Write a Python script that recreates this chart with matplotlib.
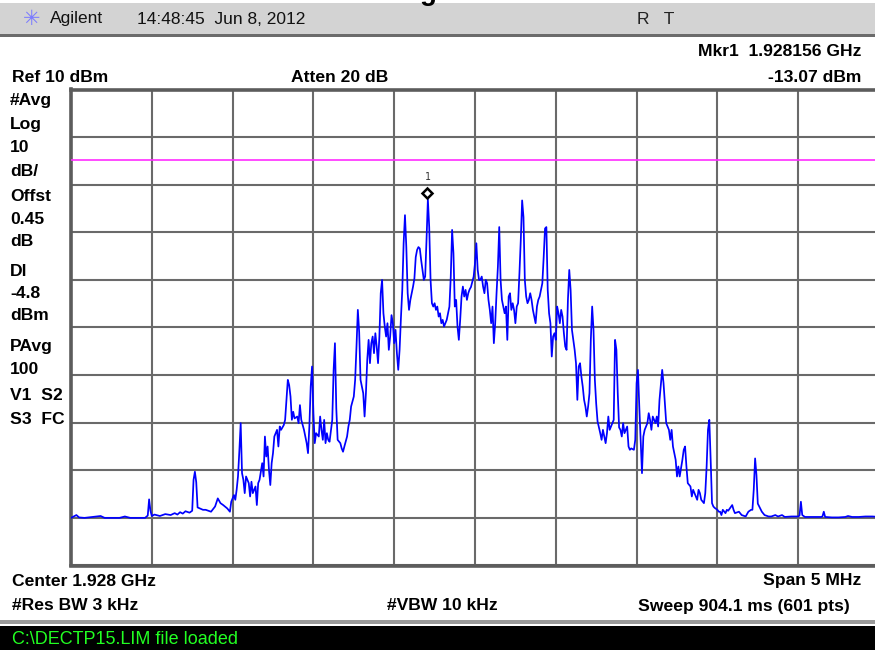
import numpy as np
import matplotlib
matplotlib.use("Agg")
import matplotlib.pyplot as plt
import matplotlib.transforms as mtransforms
from matplotlib.patches import Rectangle

plt.rcParams['font.family'] = ['Liberation Sans', 'DejaVu Sans']

# ---------------- instrument settings ----------------
start_mhz = 1925.95
span_mhz = 5.0
n_pts = 601
ref_level = 10.0
db_per_div = 10.0
n_div = 10
display_line_dbm = -4.8
marker_freq_mhz = 1928.156
marker_level_dbm = -13.07

# ---------------- trace (sample index 0..600, level dBm) ----------------
sample_idx = [
    0, 4, 6, 10, 22, 25, 36, 40, 44, 55, 57, 58, 59, 60, 62, 66, 70, 74, 77, 79,
    81, 83, 85, 88, 90, 91, 92, 93, 94, 98, 100, 102, 104, 107, 109, 111, 113, 116, 118, 119,
    121, 122, 123, 124, 125, 126, 127, 128, 129, 130, 132, 133, 134, 135, 137, 138, 139, 140, 142, 143,
    144, 145, 146, 147, 148, 149, 150, 151, 153, 154, 155, 156, 158, 159, 160, 161, 162, 163, 164, 165,
    166, 168, 169, 170, 171, 173, 174, 175, 176, 177, 178, 179, 180, 181, 182, 184, 185, 186, 187, 188,
    189, 190, 191, 192, 194, 195, 196, 197, 198, 200, 201, 202, 203, 205, 206, 207, 208, 210, 211, 212,
    213, 214, 215, 216, 217, 218, 219, 220, 221, 222, 223, 224, 225, 226, 227, 228, 229, 230, 231, 232,
    233, 234, 235, 236, 237, 238, 239, 240, 241, 242, 243, 244, 245, 246, 247, 248, 249, 250, 251, 252,
    253, 254, 255, 256, 257, 258, 259, 260, 261, 262, 263, 264, 265, 266, 267, 268, 269, 270, 271, 272,
    273, 274, 275, 276, 277, 278, 279, 280, 281, 282, 283, 284, 285, 286, 287, 288, 289, 290, 291, 292,
    293, 294, 295, 296, 297, 299, 300, 301, 302, 303, 304, 305, 306, 307, 308, 309, 310, 311, 312, 313,
    314, 315, 316, 317, 318, 319, 320, 321, 322, 323, 324, 325, 326, 327, 328, 329, 330, 331, 332, 333,
    334, 335, 336, 337, 338, 339, 340, 341, 342, 343, 344, 345, 346, 347, 348, 349, 350, 351, 352, 353,
    354, 355, 356, 357, 358, 359, 360, 361, 362, 363, 364, 365, 366, 367, 368, 369, 370, 371, 372, 373,
    374, 375, 376, 377, 378, 379, 380, 381, 382, 383, 384, 385, 386, 387, 388, 389, 390, 391, 393, 394,
    395, 397, 398, 399, 400, 402, 403, 404, 405, 406, 407, 408, 409, 410, 411, 413, 414, 415, 416, 418,
    419, 420, 421, 422, 423, 424, 425, 426, 428, 429, 430, 431, 432, 434, 435, 436, 437, 439, 440, 441,
    442, 443, 444, 445, 446, 447, 449, 450, 451, 452, 454, 455, 456, 457, 458, 460, 461, 462, 463, 465,
    466, 467, 468, 470, 471, 472, 473, 474, 475, 476, 477, 478, 480, 481, 482, 483, 484, 486, 487, 488,
    491, 492, 493, 496, 498, 501, 503, 505, 506, 507, 508, 509, 510, 513, 515, 518, 520, 523, 525, 528,
    530, 535, 540, 541, 542, 543, 545, 550, 557, 558, 559, 560, 565, 570, 575, 577, 580, 585, 590, 595,
    600,
]
level_dbm = [
    -80.0, -79.4, -79.9, -80.0, -79.6, -80.0, -80.0, -79.7, -80.0, -80.0, -79.5, -76.1, -78.5, -79.6, -79.3, -79.6, -79.2, -79.4, -79.0, -79.3,
    -78.8, -79.1, -78.6, -78.9, -78.5, -72.0, -70.3, -72.5, -77.8, -78.3, -78.3, -78.5, -78.7, -77.6, -75.9, -76.9, -77.3, -78.0, -78.7, -76.6,
    -75.2, -76.2, -74.1, -71.3, -66.0, -60.1, -70.6, -72.0, -74.8, -71.3, -72.7, -75.5, -72.4, -74.8, -73.4, -77.3, -72.7, -72.0, -68.5, -71.3,
    -62.9, -67.1, -65.0, -69.9, -73.1, -68.5, -66.4, -62.9, -61.5, -65.0, -60.8, -61.5, -60.5, -59.4, -55.2, -51.0, -52.1, -54.5, -59.4, -57.7,
    -59.1, -58.7, -60.1, -56.3, -59.4, -61.5, -62.9, -64.3, -66.4, -60.8, -52.4, -48.2, -58.0, -64.3, -62.2, -62.9, -58.7, -61.5, -63.6, -59.4,
    -64.3, -62.2, -63.6, -64.0, -59.4, -49.0, -43.3, -57.0, -63.6, -64.3, -65.4, -66.1, -65.0, -62.9, -60.8, -59.4, -56.6, -54.5, -51.0, -44.0,
    -36.3, -41.0, -51.0, -52.4, -53.8, -58.7, -53.8, -46.8, -42.6, -47.5, -43.3, -41.9, -45.4, -41.2, -44.0, -47.5, -41.9, -32.8, -30.0, -37.0,
    -39.8, -41.9, -39.1, -44.7, -41.9, -37.4, -39.1, -43.3, -40.5, -45.4, -48.9, -44.7, -38.0, -32.1, -22.3, -16.4, -23.1, -32.8, -36.3, -34.2,
    -32.8, -31.4, -29.7, -25.2, -23.7, -23.1, -23.4, -25.8, -27.9, -30.0, -29.3, -21.6, -13.07, -18.9, -30.0, -34.9, -35.6, -34.9, -36.3, -35.6,
    -37.7, -37.0, -39.1, -38.4, -39.8, -39.1, -38.4, -37.0, -35.6, -29.3, -19.5, -24.4, -35.6, -34.2, -39.8, -42.6, -38.4, -33.5, -31.4, -33.5,
    -32.1, -34.2, -32.8, -32.0, -31.5, -29.3, -26.5, -22.3, -27.9, -30.0, -30.0, -29.3, -31.4, -32.8, -30.0, -30.7, -34.2, -36.3, -39.1, -35.6,
    -43.3, -39.1, -32.8, -27.2, -18.9, -30.0, -34.2, -35.6, -37.0, -35.6, -42.6, -33.5, -32.8, -36.3, -34.9, -36.3, -39.1, -35.6, -34.9, -28.6,
    -21.6, -13.3, -16.8, -30.0, -33.5, -34.9, -34.2, -32.8, -34.2, -36.3, -37.7, -39.1, -35.6, -34.2, -33.5, -32.1, -30.7, -25.2, -19.2, -18.9,
    -32.1, -37.0, -39.1, -46.1, -41.9, -41.2, -42.6, -35.6, -37.0, -39.1, -36.3, -37.7, -41.2, -44.0, -44.7, -34.2, -27.9, -32.1, -40.5, -42.6,
    -44.7, -47.5, -55.2, -48.2, -47.5, -50.3, -52.4, -55.2, -56.6, -58.7, -56.6, -53.8, -42.6, -35.6, -40.5, -51.0, -56.0, -59.7, -62.2, -63.6,
    -61.5, -64.3, -62.2, -58.7, -61.5, -60.1, -59.4, -42.6, -44.7, -53.8, -61.0, -61.5, -62.9, -60.1, -62.2, -60.8, -65.0, -65.7, -65.4, -65.7,
    -63.6, -51.7, -48.9, -56.6, -63.6, -70.6, -62.9, -61.5, -60.1, -58.0, -59.4, -61.5, -58.7, -60.1, -58.7, -60.8, -55.2, -48.9, -51.7, -55.9,
    -60.1, -60.8, -61.5, -63.6, -61.5, -65.0, -67.8, -71.3, -69.2, -71.3, -67.8, -65.7, -65.0, -69.2, -72.7, -73.4, -75.5, -74.1, -74.8, -76.2,
    -74.1, -74.8, -76.2, -76.9, -74.8, -69.2, -61.5, -59.4, -67.8, -76.9, -77.6, -77.9, -78.3, -78.7, -78.7, -79.4, -78.3, -79.0, -78.3, -78.5,
    -77.3, -78.3, -79.0, -78.7, -79.4, -79.7, -78.7, -78.3, -78.3, -74.0, -67.5, -71.0, -77.0, -78.7, -79.4, -79.7, -79.7, -79.4, -79.7, -79.4,
    -79.8, -79.7, -79.7, -79.5, -76.6, -79.4, -79.8, -79.8, -79.8, -79.7, -78.7, -79.8, -79.9, -79.9, -79.8, -79.6, -79.8, -79.8, -79.7, -79.7,
    -79.8,
]

# ---------------- annotation texts ----------------
header_left = "Agilent"
header_time = "14:48:45  Jun 8, 2012"
header_flags = "R   T"
marker_line1 = "Mkr1  1.928156 GHz"
marker_line2 = "-13.07 dBm"
ref_text = "Ref 10 dBm"
atten_text = "Atten 20 dB"
side_labels = ["#Avg", "Log", "10", "dB/", "Offst", "0.45", "dB", "Dl", "-4.8", "dBm",
               "PAvg", "100", "V1  S2", "S3  FC"]
side_label_y = [101, 124, 148, 171, 197, 219, 241, 271, 293, 315, 347, 370, 396, 420]
center_text = "Center 1.928 GHz"
span_text = "Span 5 MHz"
rbw_text = "#Res BW 3 kHz"
vbw_text = "#VBW 10 kHz"
sweep_text = "Sweep 904.1 ms (601 pts)"
status_text = "C:\\DECTP15.LIM file loaded"

# ---------------- figure ----------------
W, H = 875, 650
fig = plt.figure(figsize=(W / 100, H / 100), dpi=100)
fig.patch.set_facecolor('white')

def fx(x):
    return x / W

def fy(y):
    return 1 - y / H

# header bar
fig.patches.append(Rectangle((0, fy(35)), 1, (35 - 3) / H, transform=fig.transFigure,
                             facecolor='#d3d3d3', edgecolor='none', zorder=0))
fig.patches.append(Rectangle((0, fy(36.5)), 1, 2 / H, transform=fig.transFigure,
                             facecolor='#6b6b6b', edgecolor='none', zorder=0))
fig.text(fx(32), fy(19), "\u2733", fontsize=15, color='#7b7bff', ha='center', va='center',
         family=['DejaVu Sans'])
fig.text(fx(50), fy(19), header_left, fontsize=12.5, color='#111111', ha='left', va='center')
fig.text(fx(137), fy(19), header_time, fontsize=12.5, color='#111111', ha='left', va='center')
fig.text(fx(637), fy(19), header_flags, fontsize=12.5, color='#222222', ha='left', va='center')
# descender of a title glyph that is cut off by the top edge of the screenshot
fig.text(fx(428), fy(-0.5), "g", fontsize=20, weight='bold', color='black', ha='center',
         va='baseline', zorder=5)

# top annotations
bold = dict(fontsize=12.6, weight='bold', color='black')
fig.text(fx(861), fy(52), marker_line1, ha='right', va='center', **bold)
fig.text(fx(861), fy(77), marker_line2, ha='right', va='center', **bold)
fig.text(fx(12), fy(77), ref_text, ha='left', va='center', **bold)
fig.text(fx(291), fy(77), atten_text, ha='left', va='center', **bold)
for lab, yy in zip(side_labels, side_label_y):
    fig.text(fx(10), fy(yy), lab, ha='left', va='center', **bold)

# bottom annotations
fig.text(fx(12), fy(581), center_text, ha='left', va='center', **bold)
fig.text(fx(861), fy(581), span_text, ha='right', va='center', **bold)
fig.text(fx(12), fy(606), rbw_text, ha='left', va='center', **bold)
fig.text(fx(387), fy(606), vbw_text, ha='left', va='center', **bold)
fig.text(fx(638), fy(606), sweep_text, ha='left', va='center', **bold)

# status bar
fig.patches.append(Rectangle((0, fy(624)), 1, 4 / H, transform=fig.transFigure,
                             facecolor='#9a9a9a', edgecolor='none', zorder=0))
fig.patches.append(Rectangle((0, 0), 1, (H - 626) / H, transform=fig.transFigure,
                             facecolor='black', edgecolor='none', zorder=0))
fig.text(fx(12), fy(640), status_text, fontsize=13, color='#22ff22', ha='left', va='center')

# ---------------- graticule axes ----------------
left_px, right_px = 71, 879
top_px, bot_px = 89.5, 565.5
ax = fig.add_axes([fx(left_px), fy(bot_px), (right_px - left_px) / W, (bot_px - top_px) / H])
ax.set_facecolor('white')
f_stop = start_mhz + span_mhz
bottom_level = ref_level - n_div * db_per_div
ax.set_xlim(start_mhz, f_stop)
ax.set_ylim(bottom_level, ref_level)
ax.set_xticks(np.linspace(start_mhz, f_stop, n_div + 1))
ax.set_yticks(np.linspace(bottom_level, ref_level, n_div + 1))
ax.tick_params(length=0, labelbottom=False, labelleft=False)
ax.grid(True, color='#6a6a6a', lw=1.5)
ax.set_axisbelow(True)
for s in ax.spines.values():
    s.set_color('#5c5c5c')
    s.set_linewidth(2.6)

# display line
ax.axhline(display_line_dbm, color='#ff2cff', lw=1.2, zorder=3)

# trace
freq = start_mhz + np.asarray(sample_idx) * span_mhz / (n_pts - 1)
ax.plot(freq, level_dbm, color='#0000ff', lw=1.25, zorder=4)

# marker (diamond drawn just above the trace point)
mk_tr = mtransforms.offset_copy(ax.transData, fig=fig, x=0, y=6.5, units='dots')
ax.plot([marker_freq_mhz], [marker_level_dbm], marker='D', ms=5.6, mfc='white',
        mec='black', mew=1.8, transform=mk_tr, zorder=6, clip_on=False)
ax.annotate("1", (marker_freq_mhz, marker_level_dbm), xytext=(0, 22), textcoords='offset pixels',
            ha='center', va='center', fontsize=7, color='#333333', family=['DejaVu Sans Mono'])

fig.savefig("out.png", dpi=100)
